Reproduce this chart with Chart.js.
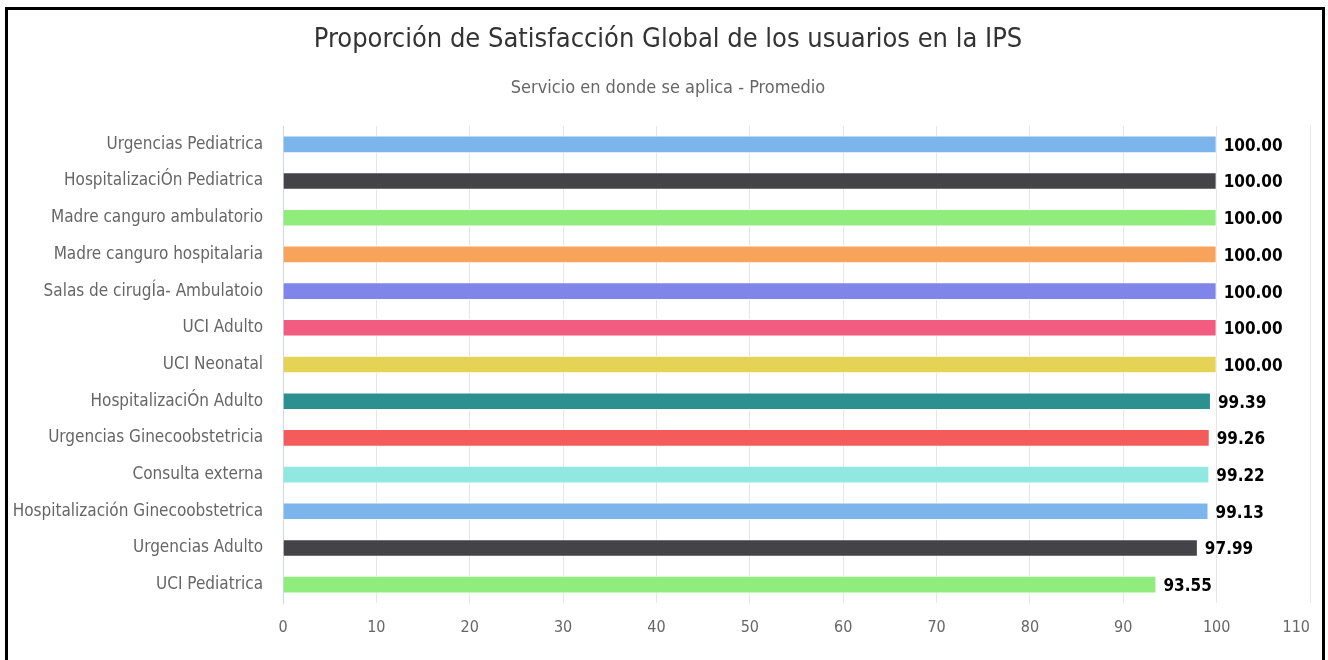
<!DOCTYPE html>
<html lang="es">
<head>
    <meta charset="UTF-8">
    <title>Proporción de Satisfacción Global</title>
    <script src="https://cdn.jsdelivr.net/npm/chart.js"></script>
    <style>
        body {
            margin: 0;
            padding: 0;
            background: #fff;
            width: 1328px;
            height: 660px;
            overflow: hidden;
            position: relative;
        }
        .marco {
            position: absolute;
            left: 5px;
            top: 7px;
            width: 1314px;
            height: 700px;
            border: 3px solid #000;
        }
        canvas {
            position: absolute;
            left: 0;
            top: 0;
        }
    </style>
</head>
<body>
    <div class="marco"></div>
    <canvas id="grafico" width="1328" height="660"></canvas>

    <script>
        // Servicios y promedio de satisfacción
        const servicios = [
            "Urgencias Pediatrica",
            "HospitalizaciÓn Pediatrica",
            "Madre canguro ambulatorio",
            "Madre canguro hospitalaria",
            "Salas de cirugÍa- Ambulatoio",
            "UCI Adulto",
            "UCI Neonatal",
            "HospitalizaciÓn Adulto",
            "Urgencias Ginecoobstetricia",
            "Consulta externa",
            "Hospitalización Ginecoobstetrica",
            "Urgencias Adulto",
            "UCI Pediatrica"
        ];
        const promedios = [100, 100, 100, 100, 100, 100, 100, 99.39, 99.26, 99.22, 99.13, 97.99, 93.55];
        const colores = [
            "#7cb5ec", "#434348", "#90ed7d", "#f7a35c", "#8085e9", "#f15c80", "#e4d354",
            "#2b908f", "#f45b5b", "#91e8e1", "#7cb5ec", "#434348", "#90ed7d"
        ];
        const ticksX = [0, 10, 20, 30, 40, 50, 60, 70, 80, 90, 100, 110];

        const fuente = "'DejaVu Sans Condensed', 'DejaVu Sans', sans-serif";

        // etiquetas de valor al final de cada barra
        const etiquetasValor = {
            id: "etiquetasValor",
            afterDatasetsDraw(chart) {
                const ctx = chart.ctx;
                const meta = chart.getDatasetMeta(0);
                ctx.save();
                ctx.font = "bold 17px " + fuente;
                ctx.fillStyle = "#000";
                ctx.textAlign = "left";
                ctx.textBaseline = "middle";
                meta.data.forEach((barra, i) => {
                    ctx.fillText(promedios[i].toFixed(2), barra.x + 7, barra.y + 2);
                });
                ctx.restore();
            }
        };

        new Chart(document.getElementById("grafico"), {
            type: "bar",
            data: {
                labels: servicios,
                datasets: [{
                    data: promedios,
                    backgroundColor: colores,
                    borderColor: "#fff",
                    borderWidth: 1,
                    barPercentage: 0.48,
                    categoryPercentage: 1
                }]
            },
            plugins: [etiquetasValor],
            options: {
                indexAxis: "y",
                responsive: false,
                animation: false,
                layout: { padding: { left: 8, right: 0, top: 0, bottom: 0 } },
                scales: {
                    x: {
                        min: 0,
                        max: 110,
                        afterBuildTicks(scale) {
                            scale.ticks = ticksX.map(v => ({ value: v }));
                        },
                        afterFit(scale) {
                            scale.height = 57;
                            scale.paddingLeft = 0;
                            scale.paddingRight = 18;
                        },
                        grid: { color: "#e6e6e6", drawTicks: false },
                        border: { display: false },
                        ticks: {
                            color: "#666",
                            padding: 15,
                            maxRotation: 0,
                            font: { family: fuente, size: 16 },
                            // la última etiqueta se corre a la izquierda para que quepa
                            callback: (v, i) => i === ticksX.length - 1 ? v + "      " : v
                        }
                    },
                    y: {
                        afterFit(scale) { scale.width = 275; },
                        grid: { display: false, drawTicks: false },
                        border: { color: "#ccd6eb", width: 1 },
                        ticks: {
                            color: "#666",
                            padding: 20,
                            font: { family: fuente, size: 17 }
                        }
                    }
                },
                plugins: {
                    legend: { display: false },
                    tooltip: { enabled: false },
                    title: {
                        display: true,
                        text: "Proporción de Satisfacción Global de los usuarios en la IPS",
                        color: "#333",
                        font: { family: fuente, size: 27, weight: "normal" },
                        padding: { top: 24, bottom: 21 }
                    },
                    subtitle: {
                        display: true,
                        text: "Servicio en donde se aplica - Promedio",
                        color: "#666",
                        font: { family: fuente, size: 18 },
                        padding: { top: 0, bottom: 27 }
                    }
                }
            }
        });
    </script>
</body>
</html>
